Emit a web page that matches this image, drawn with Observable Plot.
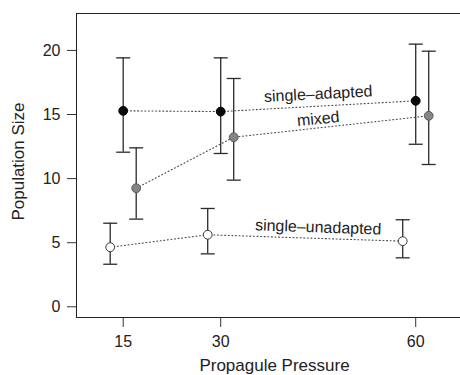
<!DOCTYPE html>
<html>
<head>
<meta charset="utf-8">
<script src="https://cdn.jsdelivr.net/npm/d3@7"></script>
<script src="https://cdn.jsdelivr.net/npm/@observablehq/plot@0.6"></script>
<style>
  html, body { margin: 0; padding: 0; background: white; overflow: hidden; }
  #chart svg { display: block; }
</style>
</head>
<body>
<div id="chart"></div>
<script>
// ---- data ----
const pressures = [15, 30, 60];
const seriesNames = ["single\u2013unadapted", "single\u2013adapted", "mixed"];

const adaptedMean = [15.29, 15.23, 16.07];
const adaptedLow  = [12.06, 11.96, 12.68];
const adaptedHigh = [19.42, 19.42, 20.49];

const mixedMean = [9.25, 13.23, 14.90];
const mixedLow  = [6.84, 9.88, 11.10];
const mixedHigh = [12.40, 17.81, 19.94];

const unadaptedMean = [4.65, 5.62, 5.12];
const unadaptedLow  = [3.32, 4.13, 3.82];
const unadaptedHigh = [6.52, 7.67, 6.79];

const yTicks = [0, 5, 10, 15, 20];
const xTicks = [15, 30, 60];

// label anchor positions (data units) for in-plot series labels
const labelX = [45, 45, 45];
const labelY = [6.2, 16.6, 14.66];

// ---- styles ----
const styles = {
  "single\u2013unadapted": {dx: -13, fill: "white", stroke: "#3a3a3a", rotate: 2},
  "single\u2013adapted":   {dx: 0,   fill: "#0a0a0a", stroke: "#000", rotate: -3},
  "mixed":                 {dx: 13,  fill: "#858585", stroke: "#5a5a5a", rotate: -5.5}
};

const build = (name, mean, lo, hi) =>
  pressures.map((p, i) => ({series: name, p, mean: mean[i], lo: lo[i], hi: hi[i]}));

const series = [
  build(seriesNames[0], unadaptedMean, unadaptedLow, unadaptedHigh),
  build(seriesNames[1], adaptedMean, adaptedLow, adaptedHigh),
  build(seriesNames[2], mixedMean, mixedLow, mixedHigh)
];

const xDomain = [7.815, 66.89];
const yDomain = [-0.835, 22.88];

const capSymbol = {
  draw(context, size) {
    const r = Math.sqrt(size / Math.PI);
    context.moveTo(-r, 0);
    context.lineTo(r, 0);
  }
};

const font = "'Liberation Sans', Arial, Helvetica, sans-serif";
const ink = "#222";

const marks = [];

// frame: left, top, bottom
marks.push(Plot.ruleX([xDomain[0]], {stroke: "#222", strokeWidth: 1}));
marks.push(Plot.ruleY([yDomain[0], yDomain[1]], {stroke: "#222", strokeWidth: 1}));

// axes
marks.push(Plot.axisY(yTicks, {tickSize: 9, tickPadding: 7, fontSize: 16, label: null, stroke: "#333", color: ink, fontFamily: font}));
marks.push(Plot.axisX(xTicks, {tickSize: 10, tickPadding: 8, fontSize: 16, label: null, stroke: "#333", color: ink, fontFamily: font}));

for (const data of series) {
  const st = styles[data[0].series];
  // dotted connecting line
  marks.push(Plot.line(data, {x: "p", y: "mean", dx: st.dx, stroke: "#4a4a4a", strokeWidth: 1.1, strokeDasharray: "1,2.6"}));
  // error bars
  marks.push(Plot.ruleX(data, {x: "p", y1: "lo", y2: "hi", dx: st.dx, stroke: "#2a2a2a", strokeWidth: 1.3}));
  marks.push(Plot.dot(data, {x: "p", y: "lo", dx: st.dx, symbol: capSymbol, r: 7, stroke: "#2a2a2a", strokeWidth: 1.3, fill: "none"}));
  marks.push(Plot.dot(data, {x: "p", y: "hi", dx: st.dx, symbol: capSymbol, r: 7, stroke: "#2a2a2a", strokeWidth: 1.3, fill: "none"}));
  // points
  marks.push(Plot.dot(data, {x: "p", y: "mean", dx: st.dx, r: 4.4, fill: st.fill, stroke: st.stroke, strokeWidth: 1}));
}

// series labels
seriesNames.forEach((name, i) => {
  marks.push(Plot.text([name], {x: () => labelX[i], y: () => labelY[i], text: d => d, rotate: styles[name].rotate, fontSize: 16, fill: ink, fontFamily: font}));
});

// axis titles
marks.push(Plot.text(["Population Size"], {frameAnchor: "left", textAnchor: "middle", lineAnchor: "middle", dx: -58, dy: -4, rotate: -90, fontSize: 17, fill: ink, fontFamily: font}));
marks.push(Plot.text(["Propagule Pressure"], {frameAnchor: "bottom", textAnchor: "middle", lineAnchor: "middle", dx: 6, dy: 48, fontSize: 17, fill: ink, fontFamily: font}));

const chart = Plot.plot({
  width: 460,
  height: 375,
  marginLeft: 76,
  marginRight: 0,
  marginTop: 13,
  marginBottom: 58,
  style: {fontFamily: font, background: "white", overflow: "visible"},
  x: {domain: xDomain, axis: null},
  y: {domain: yDomain, axis: null},
  marks
});
document.getElementById("chart").appendChild(chart);
</script>
</body>
</html>
